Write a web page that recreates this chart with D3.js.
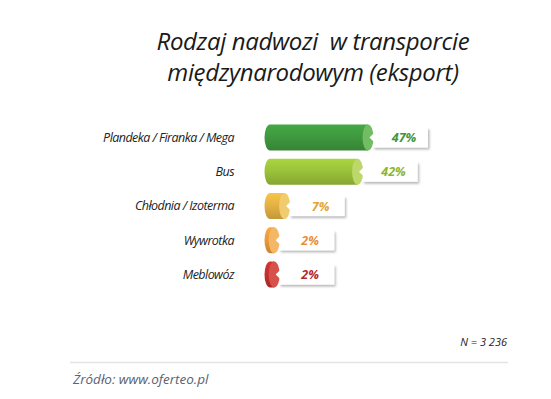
<!DOCTYPE html>
<html><head><meta charset="utf-8">
<script src="https://cdn.jsdelivr.net/npm/d3@7"></script>
<style>html,body{margin:0;padding:0;background:#fff;}svg{display:block;}</style>
</head><body>
<script>
const categories = ["Plandeka / Firanka / Mega", "Bus", "Chłodnia / Izoterma", "Wywrotka", "Meblowóz"];
const values = [47, 42, 7, 2, 2];
const valueLabels = ["47%", "42%", "7%", "2%", "2%"];
const bodyColors = ["#3f9a3f", "#9cc33a", "#e4b343", "#ec9a3b", "#c4302e"];
const capColors = ["#72bd63", "#bcd86a", "#f0cc6e", "#f4b765", "#d6524b"];
const textColors = ["#3c963c", "#8ab62c", "#e2a434", "#ea8f38", "#b8282a"];
const titleLines = ["Rodzaj nadwozi  w transporcie", "międzynarodowym (eksport)"];

const W = 551, H = 399;
const svg = d3.select("body").append("svg").attr("width", W).attr("height", H);
const defs = svg.append("defs");
const f = defs.append("filter").attr("id","sh").attr("x","-20%").attr("y","-30%").attr("width","150%").attr("height","180%");
f.append("feDropShadow").attr("dx",1.5).attr("dy",2).attr("stdDeviation",1.3).attr("flood-color","#000").attr("flood-opacity",0.28);

values.forEach((v,i)=>{
  const g = defs.append("linearGradient").attr("id","bg"+i).attr("x1",0).attr("y1",0).attr("x2",0).attr("y2",1);
  const c = d3.color(bodyColors[i]);
  g.append("stop").attr("offset","0%").attr("stop-color", c.brighter(0.25));
  g.append("stop").attr("offset","45%").attr("stop-color", c);
  g.append("stop").attr("offset","100%").attr("stop-color", c.darker(0.45));
});

const x = d3.scaleLinear().domain([0, 47]).range([270, 368]);
const y = d3.scaleBand().domain(categories).range([121, 291]).paddingInner(0.24).paddingOuter(0.1);

// title
svg.append("g").selectAll("text").data(titleLines).join("text")
  .attr("x", 313).attr("y",(d,i)=>50 + i*30.5)
  .attr("text-anchor","middle")
  .style("white-space","pre").attr("letter-spacing", -0.35)
  .attr("font-family","'Open Sans', sans-serif").attr("font-style","italic")
  .attr("font-size", 24).attr("fill","#1a1a1a").text(d=>d);

// category labels
svg.append("g").selectAll("text").data(categories).join("text")
  .attr("x", 234).attr("y", d=>y(d)+y.bandwidth()/2)
  .attr("dy","0.35em").attr("text-anchor","end")
  .attr("letter-spacing", -0.55)
  .attr("font-family","'Open Sans', sans-serif").attr("font-style","italic")
  .attr("font-size", 12.5).attr("fill","#222").text(d=>d);

const rx = 5.5;
const bars = svg.append("g").selectAll("g").data(categories).join("g");

// label boxes (behind bars)
bars.append("rect")
  .attr("x",(d,i)=>x(values[i]) + 5)
  .attr("y", d=>y(d)+3)
  .attr("width", 55)
  .attr("height", y.bandwidth()-6)
  .attr("fill","#fff").attr("filter","url(#sh)");

// body
bars.append("path")
  .attr("d",(d,i)=>{
    const x0 = x(0), x1 = x(values[i]);
    const t = y(d), h = y.bandwidth(), ry = h/2;
    return `M${x0},${t} L${x1},${t} L${x1},${t+h} L${x0},${t+h} A${rx},${ry} 0 0 1 ${x0},${t} Z`;
  })
  .attr("fill",(d,i)=>`url(#bg${i})`);

// cap
bars.append("ellipse")
  .attr("cx",(d,i)=>x(values[i]))
  .attr("cy", d=>y(d)+y.bandwidth()/2)
  .attr("rx", rx).attr("ry", y.bandwidth()/2)
  .attr("fill",(d,i)=>capColors[i]);

// notch
bars.append("path")
  .attr("d",(d,i)=>{
    const xr = x(values[i]) + rx + 0.5, cy = y(d)+y.bandwidth()/2;
    return `M${xr},${cy-4.5} L${xr-4.5},${cy} L${xr},${cy+4.5} Z`;
  })
  .attr("fill","#fff");

// value labels
bars.append("text")
  .attr("x",(d,i)=>x(values[i]) + 36)
  .attr("y", d=>y(d)+y.bandwidth()/2)
  .attr("dy","0.36em").attr("text-anchor","middle")
  .attr("font-family","'Open Sans', sans-serif").attr("font-style","italic").attr("font-weight","bold")
  .attr("font-size", 12.5)
  .attr("fill",(d,i)=>textColors[i]).text((d,i)=>valueLabels[i]);

// N
svg.append("text").attr("x",507).attr("y",346).attr("text-anchor","end")
  .attr("font-family","'Open Sans', sans-serif").attr("font-style","italic")
  .attr("font-size",11).attr("fill","#222").text("N = 3 236");

svg.append("line").attr("x1",70).attr("x2",508).attr("y1",362.5).attr("y2",362.5)
  .attr("stroke","#e4e4e4").attr("stroke-width",1.5);

svg.append("text").attr("x",73).attr("y",384)
  .attr("font-family","'Open Sans', sans-serif").attr("font-style","italic")
  .attr("font-size",13.5).attr("fill","#5a6173").text("Źródło: www.oferteo.pl");
</script>
</body></html>
